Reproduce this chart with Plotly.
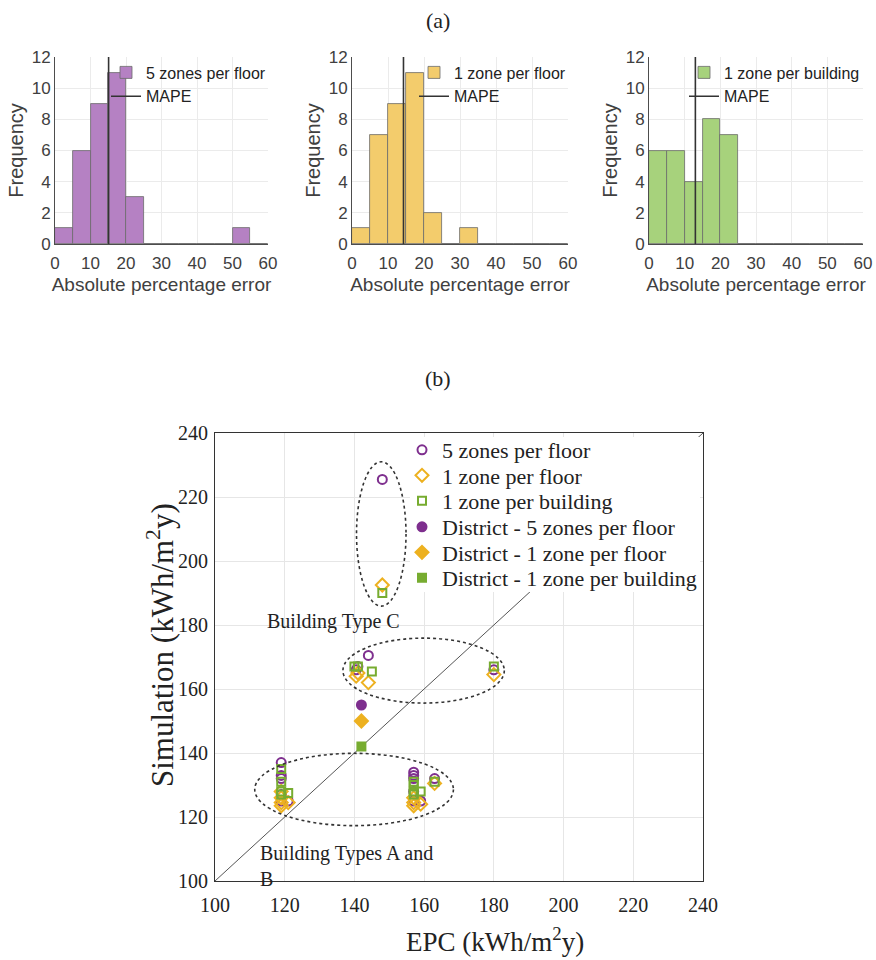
import plotly.graph_objects as go

# ---------------- DATA ----------------
bin_edges = [0, 5, 10, 15, 20, 25, 30, 35, 40, 45, 50, 55, 60]
freq_5zf = [1, 6, 9, 11, 3, 0, 0, 0, 0, 0, 1, 0]
freq_1zf = [1, 7, 9, 11, 2, 0, 1, 0, 0, 0, 0, 0]
freq_1zb = [6, 6, 4, 8, 7, 0, 0, 0, 0, 0, 0, 0]
mape_vals = [15.1, 14.3, 13.0]
hist_names = ["5 zones per floor", "1 zone per floor", "1 zone per building"]

x_5zf = [148, 140.5, 141, 144, 180, 119, 119, 119, 119, 119, 121, 157, 157, 157, 157, 157, 159, 163]
y_5zf = [225.5, 166, 167, 170.5, 166, 137, 133, 132, 127, 125, 125, 134, 133, 132, 128, 125, 125, 132]
x_1zf = [148, 140.5, 141, 144, 180, 119, 119, 119, 119, 121, 157, 157, 157, 159, 163]
y_1zf = [192.5, 164, 165, 162, 164.5, 128, 126, 124.5, 123.5, 124.5, 126, 124.5, 123.5, 124, 130.5]
x_1zb = [148, 140, 141, 145, 180, 119, 119, 119, 119, 121, 157, 157, 157, 157, 159, 163]
y_1zb = [190, 167, 167, 165.5, 167, 135, 131, 128, 127, 127.5, 131, 130, 128, 127, 128, 131]
x_d5zf, y_d5zf = [142], [155]
x_d1zf, y_d1zf = [142], [150]
x_d1zb, y_d1zb = [142], [142]
diag = [100, 240]

# ---------------- STYLE ----------------
W, H = 876, 960
PURPLE, ORANGE, GREEN = "#7E2F8E", "#EDB120", "#77AC30"
hist_fill = ["#B581C3", "#F3CC6C", "#A7D27C"]
SANS = "Liberation Sans, Arial, sans-serif"
SERIF = "Liberation Serif, Times New Roman, serif"
GREY = "#404040"
DARK = "#222222"

def px(x0, x1):
    return [x0 / W, x1 / W]

def py(top, bottom):
    return [1 - bottom / H, 1 - top / H]

fig = go.Figure()

hist_x = [px(55, 268), px(352, 568), px(649, 863)]
hist_y = py(57, 244)
leg_x = [106, 414, 684]
freqs = [freq_5zf, freq_1zf, freq_1zb]
centers = [(bin_edges[i] + bin_edges[i + 1]) / 2 for i in range(len(bin_edges) - 1)]
widths = [bin_edges[i + 1] - bin_edges[i] for i in range(len(bin_edges) - 1)]

for k in range(3):
    xa = "x" if k == 0 else f"x{k+1}"
    ya = "y" if k == 0 else f"y{k+1}"
    lg = "legend" if k == 0 else f"legend{k+1}"
    fig.add_trace(go.Bar(
        x=centers, y=freqs[k], width=widths, name=hist_names[k],
        marker=dict(color=hist_fill[k], line=dict(color="#6a6a6a", width=0.8)),
        xaxis=xa, yaxis=ya, legend=lg, showlegend=True))
    fig.add_trace(go.Scatter(
        x=[mape_vals[k], mape_vals[k]], y=[0, 12], mode="lines", name="MAPE",
        line=dict(color="#333333", width=1.6),
        xaxis=xa, yaxis=ya, legend=lg, showlegend=True))
    axis_common = dict(showline=True, linecolor="#4d4d4d", linewidth=1, mirror=False,
                       showgrid=True, gridcolor="#ebebeb", zeroline=False,
                       ticks="", tickfont=dict(family=SANS, size=17, color=GREY))
    fig.layout[("xaxis" if k == 0 else f"xaxis{k+1}")] = dict(
        domain=hist_x[k], anchor=ya, range=[0, 60], dtick=10, ticklabelstandoff=4,
        title=dict(text="Absolute percentage error", font=dict(family=SANS, size=19, color=GREY), standoff=5),
        **axis_common)
    fig.layout[("yaxis" if k == 0 else f"yaxis{k+1}")] = dict(
        domain=hist_y, anchor=xa, range=[0, 12], dtick=2,
        title=dict(text="Frequency", font=dict(family=SANS, size=20, color=GREY), standoff=2),
        **axis_common)
    fig.layout[lg] = dict(
        x=leg_x[k] / W, y=1 - 55.5 / H, xanchor="left", yanchor="top",
        bgcolor="rgba(0,0,0,0)", borderwidth=0, tracegroupgap=0,
        font=dict(family=SANS, size=16, color=DARK), itemwidth=30)

# Scatter panel
fig.add_trace(go.Scatter(x=diag, y=diag, mode="lines", line=dict(color="#555555", width=1),
                         xaxis="x4", yaxis="y4", showlegend=False, hoverinfo="skip"))
series = [
    (x_5zf, y_5zf, "5 zones per floor", "circle-open", PURPLE, 9),
    (x_1zf, y_1zf, "1 zone per floor", "diamond-open", ORANGE, 10),
    (x_1zb, y_1zb, "1 zone per building", "square-open", GREEN, 8),
    (x_d5zf, y_d5zf, "District - 5 zones per floor", "circle", PURPLE, 9),
    (x_d1zf, y_d1zf, "District - 1 zone per floor", "diamond", ORANGE, 10),
    (x_d1zb, y_d1zb, "District - 1 zone per building", "square", GREEN, 8),
]
row_y = [450, 475.5, 501, 527, 552.5, 578]
for i, (xs, ys, nm, sym, col, sz) in enumerate(series):
    lg = f"legend{4 + i}"
    fig.add_trace(go.Scatter(x=xs, y=ys, mode="markers", name=nm,
                             marker=dict(symbol=sym, color=col, size=sz, line=dict(color=col, width=2)),
                             xaxis="x4", yaxis="y4", legend=lg))
    fig.layout[lg] = dict(x=402 / W, y=1 - row_y[i] / H, xanchor="left", yanchor="middle",
                          bgcolor="rgba(0,0,0,0)", borderwidth=0, itemwidth=30,
                          font=dict(family=SERIF, size=22, color=DARK))

ax4 = dict(showline=True, linecolor="#333333", linewidth=1, mirror=True,
           showgrid=True, gridcolor="#e6e6e6", zeroline=False, ticks="",
           tickfont=dict(family=SERIF, size=20, color=DARK))
fig.update_layout(
    xaxis4=dict(domain=px(215, 703), anchor="y4", range=[100, 240], dtick=20, ticklabelstandoff=6, **ax4),
    yaxis4=dict(domain=py(433, 881), anchor="x4", range=[100, 240], dtick=20, ticklabelstandoff=2, **ax4),
)

# axis titles of the scatter panel (placed as in the reference)
fig.add_annotation(x=495 / W, y=1 - 940 / H, xref="paper", yref="paper",
                   text="EPC (kWh/m<sup>2</sup>y)", showarrow=False, yanchor="middle",
                   font=dict(family=SERIF, size=27, color=DARK))
fig.add_annotation(x=160 / W, y=1 - 645 / H, xref="paper", yref="paper",
                   text="Simulation (kWh/m<sup>2</sup>y)", showarrow=False, textangle=-90,
                   xanchor="center", yanchor="middle",
                   font=dict(family=SERIF, size=31, color=DARK))

# white background behind the scatter legend
fig.add_shape(type="rect", xref="paper", yref="paper", x0=410 / W, x1=700 / W,
              y0=1 - 592 / H, y1=1 - 437 / H, fillcolor="white", line=dict(width=0), layer="above")

ellipses = [(140.6, 185.9, 154.8, 231.0), (136.7, 155.6, 183.0, 175.9), (111.4, 117.3, 168.4, 139.9)]
for x0, y0, x1, y1 in ellipses:
    fig.add_shape(type="circle", xref="x4", yref="y4", x0=x0, y0=y0, x1=x1, y1=y1,
                  line=dict(color="#333333", width=1.6, dash="dot"))

fig.add_annotation(x=134.1, y=181, xref="x4", yref="y4", text="Building Type C", showarrow=False,
                   font=dict(family=SERIF, size=20, color=DARK), yanchor="middle")
fig.add_annotation(x=112.2, y=112.8, xref="x4", yref="y4", text="Building Types A and<br>B", showarrow=False,
                   align="left", xanchor="left", yanchor="top",
                   font=dict(family=SERIF, size=20, color=DARK))

fig.add_annotation(x=438 / W, y=1 - 20 / H, xref="paper", yref="paper", text="(a)", showarrow=False,
                   yanchor="middle", font=dict(family=SERIF, size=22, color=DARK))
fig.add_annotation(x=438 / W, y=1 - 378 / H, xref="paper", yref="paper", text="(b)", showarrow=False,
                   yanchor="middle", font=dict(family=SERIF, size=22, color=DARK))

fig.update_layout(width=W, height=H, margin=dict(l=0, r=0, t=0, b=0, autoexpand=False),
                  paper_bgcolor="white", plot_bgcolor="white", bargap=0)
fig.write_html("out.html")
